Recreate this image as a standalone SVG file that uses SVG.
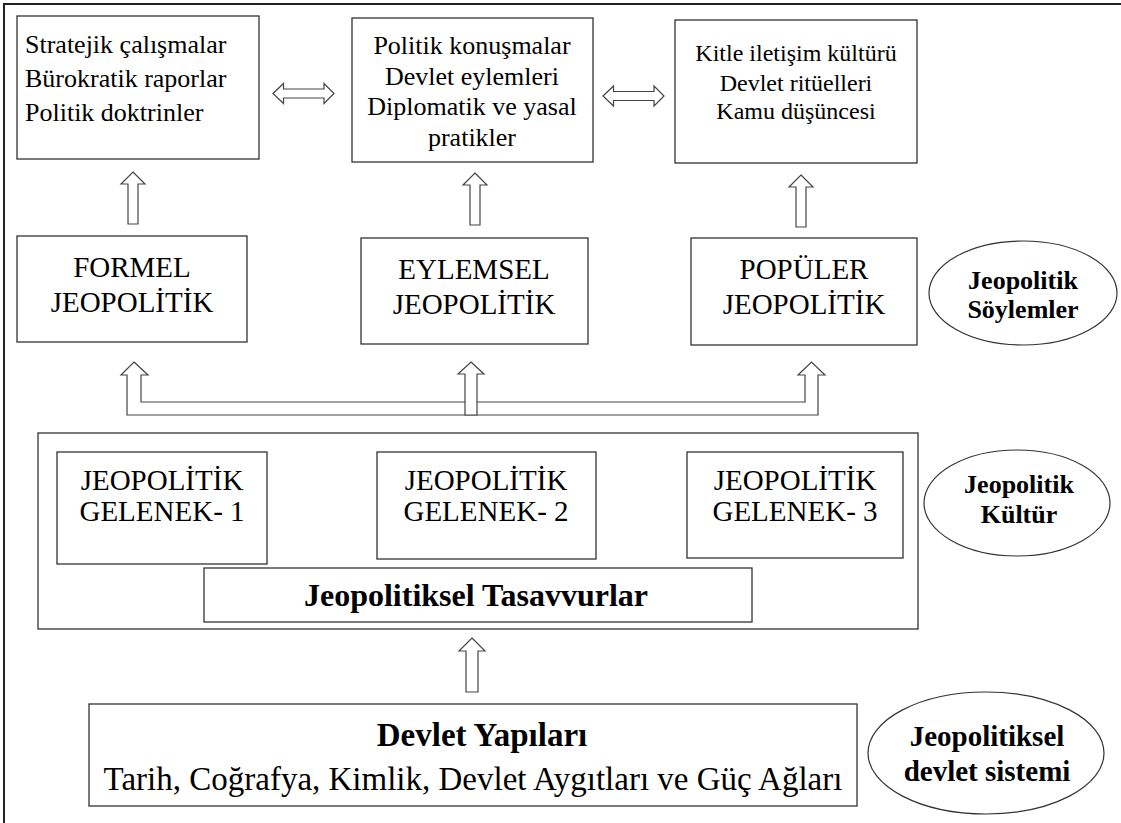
<svg xmlns="http://www.w3.org/2000/svg" width="1121" height="823" viewBox="0 0 1121 823">
<style>
.box{fill:#fff;stroke:#333;stroke-width:1.3}
.ell{fill:#fff;stroke:#333;stroke-width:1.2}
.arr{fill:#fff;stroke:#444;stroke-width:1.2;stroke-linejoin:miter}
text{font-family:"Liberation Serif","Tinos","DejaVu Serif",serif;font-weight:normal;font-style:normal;fill:#000}
.t26{font-size:26px}
.t24{font-size:24px}
.t29{font-size:29px}
.c{text-anchor:middle}
text.b{font-weight:bold}
</style>
<rect width="1121" height="823" fill="#fff"/>
<path d="M4,823 V4 H1121" fill="none" stroke="#222" stroke-width="2"/>

<g id="n-stratejik">
<rect class="box" x="17" y="16" width="242" height="143"/>
<text class="t26" x="25" y="53">Stratejik çalışmalar</text>
<text class="t26" x="25" y="87">Bürokratik raporlar</text>
<text class="t26" x="25" y="121">Politik doktrinler</text>
</g>
<g id="n-politik">
<rect class="box" x="352" y="18" width="241" height="144"/>
<text class="t26 c" x="472" y="54">Politik konuşmalar</text>
<text class="t26 c" x="472" y="85">Devlet eylemleri</text>
<text class="t26 c" x="472" y="115">Diplomatik ve yasal</text>
<text class="t26 c" x="472" y="146">pratikler</text>
</g>
<g id="n-kitle">
<rect class="box" x="675" y="20" width="242" height="143"/>
<text class="t24 c" x="796" y="61">Kitle iletişim kültürü</text>
<text class="t24 c" x="796" y="91">Devlet ritüelleri</text>
<text class="t24 c" x="796" y="119">Kamu düşüncesi</text>
</g>

<g id="n-formel">
<rect class="box" x="17" y="236" width="230" height="106"/>
<text class="t29 c" x="132" y="277">FORMEL</text>
<text class="t29 c" x="132" y="312">JEOPOLİTİK</text>
</g>
<g id="n-eylemsel">
<rect class="box" x="361" y="238" width="227" height="106"/>
<text class="t29 c" x="474" y="279">EYLEMSEL</text>
<text class="t29 c" x="474" y="314">JEOPOLİTİK</text>
</g>
<g id="n-populer">
<rect class="box" x="691" y="238" width="226" height="107"/>
<text class="t29 c" x="804" y="279">POPÜLER</text>
<text class="t29 c" x="804" y="314">JEOPOLİTİK</text>
</g>
<g id="n-soylemler">
<ellipse class="ell" cx="1023" cy="293" rx="94" ry="52"/>
<text class="t26 c b" x="1023" y="289">Jeopolitik</text>
<text class="t26 c b" x="1023" y="318">Söylemler</text>
</g>

<g id="n-kultur-frame">
<rect class="box" x="38" y="433" width="880" height="196"/>
</g>
<g id="n-gelenek1">
<rect class="box" x="57" y="452" width="210" height="112"/>
<text class="t29 c" x="162" y="490">JEOPOLİTİK</text>
<text class="t29 c" x="162" y="521">GELENEK- 1</text>
</g>
<g id="n-gelenek2">
<rect class="box" x="377" y="452" width="219" height="107"/>
<text class="t29 c" x="486" y="490">JEOPOLİTİK</text>
<text class="t29 c" x="486" y="521">GELENEK- 2</text>
</g>
<g id="n-gelenek3">
<rect class="box" x="687" y="452" width="216" height="106"/>
<text class="t29 c" x="795" y="490">JEOPOLİTİK</text>
<text class="t29 c" x="795" y="521">GELENEK- 3</text>
</g>
<g id="n-tasavvurlar">
<rect class="box" x="204" y="568" width="548" height="54"/>
<text class="c b" style="font-size:32px" x="476" y="606">Jeopolitiksel Tasavvurlar</text>
</g>
<g id="n-kultur">
<ellipse class="ell" cx="1017" cy="503" rx="93" ry="53"/>
<text class="t26 c b" x="1019" y="493">Jeopolitik</text>
<text class="t26 c b" x="1019" y="523">Kültür</text>
</g>

<g id="n-devlet">
<rect class="box" x="89" y="704" width="768" height="102"/>
<text class="c b" style="font-size:33px" x="482" y="746">Devlet Yapıları</text>
<text class="c" style="font-size:33px" x="473" y="790">Tarih, Coğrafya, Kimlik, Devlet Aygıtları ve Güç Ağları</text>
</g>
<g id="n-sistem">
<ellipse class="ell" cx="986" cy="753" rx="118" ry="61"/>
<text class="c b" style="font-size:29px" x="987" y="746">Jeopolitiksel</text>
<text class="c b" style="font-size:29px" x="987" y="781">devlet sistemi</text>
</g>

<g id="connectors">
<path class="arr" d="M273,93.5 L283.5,83.5 L283.5,89 L324,89 L324,83.5 L334,93.5 L324,103.5 L324,98 L283.5,98 L283.5,103.5 Z"/>
<path class="arr" d="M603,96 L613.5,86 L613.5,91.5 L654,91.5 L654,86 L664,96 L654,106 L654,100.5 L613.5,100.5 L613.5,106 Z"/>
<path class="arr" d="M133,172 L145,184 L138,184 L138,224 L128,224 L128,184 L121,184 Z"/>
<path class="arr" d="M475,173 L487,185 L480,185 L480,225 L470,225 L470,185 L463,185 Z"/>
<path class="arr" d="M801,175 L813,187 L806,187 L806,227 L796,227 L796,187 L789,187 Z"/>
<path class="arr" d="M134,362 L148,375 L141,375 L141,402 L805,402 L805,375 L798,375 L811.5,362 L825,375 L818,375 L818,415 L127,415 L127,375 L121,375 Z"/>
<path class="arr" d="M471,362 L484,374 L477,374 L477,415 L465,415 L465,374 L458,374 Z"/>
<path class="arr" d="M472,638 L485,651 L478,651 L478,692 L466,692 L466,651 L459,651 Z"/>
</g>
</svg>
